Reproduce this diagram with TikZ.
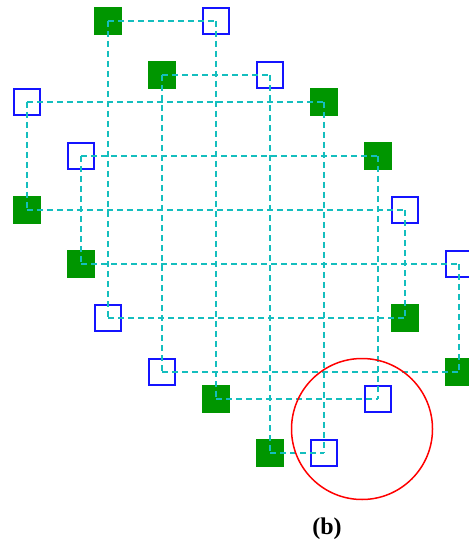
\documentclass[tikz,border=0pt]{standalone}
\usepackage{xcolor}
\usepackage{fontspec}
\setmainfont{Liberation Serif}
\usepackage{tikz}
\definecolor{sqgreen}{RGB}{0,150,0}
\definecolor{sqblue}{RGB}{20,20,255}
\definecolor{linkcyan}{RGB}{20,190,190}
\tikzset{
  gsq/.style={rectangle,fill=sqgreen,minimum size=28pt,inner sep=0pt},
  bsq/.style={rectangle,draw=sqblue,line width=2pt,minimum size=26pt,inner sep=0pt},
  link/.style={linkcyan,line width=1.2pt,dash pattern=on 6pt off 4pt}
}
\begin{document}
\begin{tikzpicture}[x=1pt,y=-1pt]
\useasboundingbox (0,0) rectangle (468,545);
\node (g1) at (108,21) [gsq] {};
\node (b1) at (216,21) [bsq] {};
\node (g2) at (162,75) [gsq] {};
\node (b2) at (270,75) [bsq] {};
\node (b3) at (27,102) [bsq] {};
\node (g3) at (324,102) [gsq] {};
\node (b4) at (81,156) [bsq] {};
\node (g4) at (378,156) [gsq] {};
\node (g5) at (27,210) [gsq] {};
\node (b5) at (405,210) [bsq] {};
\node (g6) at (81,264) [gsq] {};
\node (b6) at (459,264) [bsq] {};
\node (b7) at (108,318) [bsq] {};
\node (g7) at (405,318) [gsq] {};
\node (b8) at (162,372) [bsq] {};
\node (g8) at (459,372) [gsq] {};
\node (g9) at (216,399) [gsq] {};
\node (b9) at (378,399) [bsq] {};
\node (g10) at (270,453) [gsq] {};
\node (b10) at (324,453) [bsq] {};
\draw[link] (g1.center) -- (b1.center);
\draw[link] (g2.center) -- (b2.center);
\draw[link] (b3.center) -- (g3.center);
\draw[link] (b4.center) -- (g4.center);
\draw[link] (g5.center) -- (b5.center);
\draw[link] (g6.center) -- (b6.center);
\draw[link] (b7.center) -- (g7.center);
\draw[link] (b8.center) -- (g8.center);
\draw[link] (g9.center) -- (b9.center);
\draw[link] (g10.center) -- (b10.center);
\draw[link] (g1.center) -- (b7.center);
\draw[link] (b1.center) -- (g9.center);
\draw[link] (g2.center) -- (b8.center);
\draw[link] (b2.center) -- (g10.center);
\draw[link] (b3.center) -- (g5.center);
\draw[link] (g3.center) -- (b10.center);
\draw[link] (b4.center) -- (g6.center);
\draw[link] (g4.center) -- (b9.center);
\draw[link] (b5.center) -- (g7.center);
\draw[link] (b6.center) -- (g8.center);
\node (ring) at (362,429) [circle,draw=red,line width=1.5pt,minimum size=141pt,inner sep=0pt] {};
\node (lbl) at (327,529) {\fontsize{24}{28}\selectfont\bfseries (b)};
\end{tikzpicture}
\end{document}
